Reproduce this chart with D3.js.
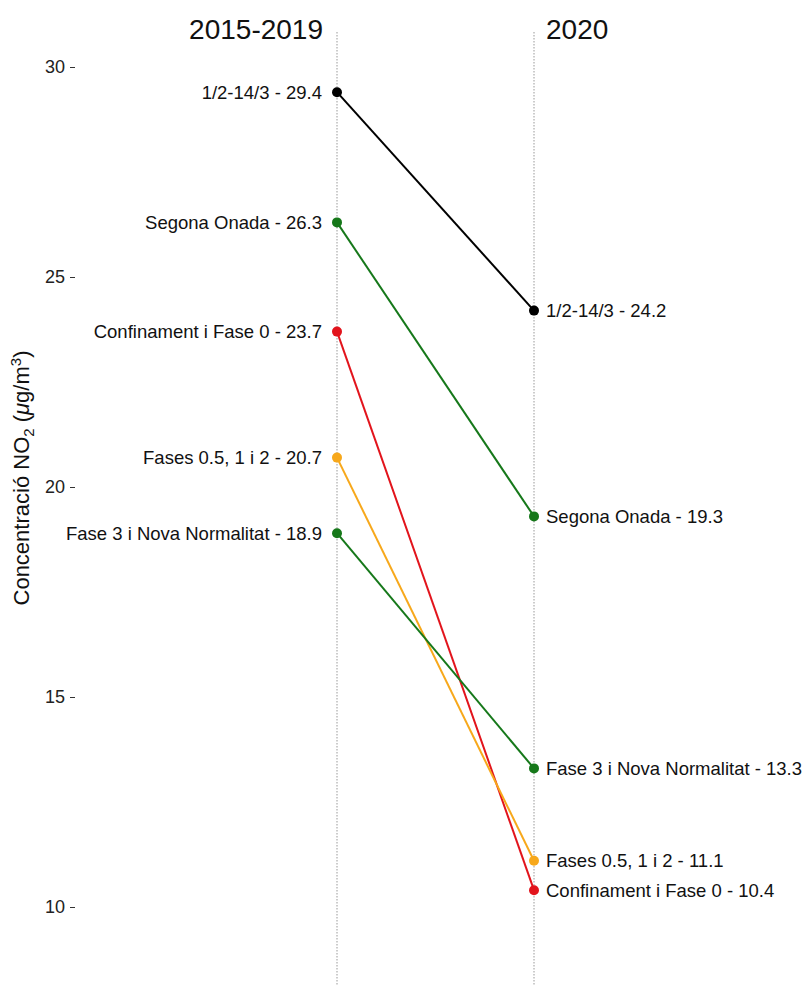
<!DOCTYPE html>
<html><head><meta charset="utf-8">
<script src="https://cdn.jsdelivr.net/npm/d3@7"></script>
<style>body{margin:0;background:#fff}svg{display:block;font-family:"Liberation Sans",Arial,Helvetica,sans-serif}</style>
</head><body>
<svg id="c" width="805" height="985"></svg>
<script>
const periods = ["2015-2019", "2020"];
const categories = ["1/2-14/3", "Segona Onada", "Confinament i Fase 0", "Fases 0.5, 1 i 2", "Fase 3 i Nova Normalitat"];
const values2015_2019 = [29.4, 26.3, 23.7, 20.7, 18.9];
const values2020 = [24.2, 19.3, 10.4, 11.1, 13.3];
const colors = ["#000000", "#16781a", "#e2141c", "#f7a81b", "#16781a"];
const yTicks = [10, 15, 20, 25, 30];

const svg = d3.select("#c");
const x = d3.scalePoint().domain(periods).range([337, 534]);
const y = d3.scaleLinear().domain([10, 30]).range([907, 67]);
const yTop = y.invert(32), yBot = y.invert(985);

svg.selectAll("line.v").data(periods).join("line")
  .attr("x1", d => x(d)).attr("x2", d => x(d))
  .attr("y1", y(yTop)).attr("y2", y(yBot))
  .attr("stroke", "#999").attr("stroke-width", 1).attr("stroke-dasharray", "1.5,1.5");

const ax = svg.append("g").attr("transform", "translate(75,0)")
  .call(d3.axisLeft(y).tickValues(yTicks).tickSize(5).tickPadding(5).tickFormat(d3.format("d")));
ax.select(".domain").remove();
ax.selectAll("text").attr("font-size", 18).attr("fill", "#222").attr("font-family", "Liberation Sans, Arial, sans-serif");
ax.selectAll("line").attr("stroke", "#333");

svg.append("text").attr("transform", "translate(29,478) rotate(-90)")
  .attr("text-anchor", "middle").attr("font-size", 22).attr("fill", "#111")
  .html('Concentració NO<tspan font-size="15" dy="5">2</tspan><tspan dy="-5"> (</tspan><tspan font-style="italic">μ</tspan>g/m<tspan font-size="15" dy="-8">3</tspan><tspan dy="8">)</tspan>');

svg.append("text").attr("x", x(periods[0]) - 14).attr("y", 39).attr("text-anchor", "end")
  .attr("font-size", 28).attr("fill", "#111").text(periods[0]);
svg.append("text").attr("x", x(periods[1]) + 12).attr("y", 39).attr("text-anchor", "start")
  .attr("font-size", 28).attr("fill", "#111").text(periods[1]);

const data = categories.map((c, i) => ({c, a: values2015_2019[i], b: values2020[i], col: colors[i]}));

svg.selectAll("line.s").data(data).join("line")
  .attr("x1", x(periods[0])).attr("y1", d => y(d.a))
  .attr("x2", x(periods[1])).attr("y2", d => y(d.b))
  .attr("stroke", d => d.col).attr("stroke-width", 2);

svg.selectAll("circle.a").data(data).join("circle")
  .attr("cx", x(periods[0])).attr("cy", d => y(d.a)).attr("r", 5).attr("fill", d => d.col);
svg.selectAll("circle.b").data(data).join("circle")
  .attr("cx", x(periods[1])).attr("cy", d => y(d.b)).attr("r", 5).attr("fill", d => d.col);

svg.selectAll("text.la").data(data).join("text")
  .attr("x", x(periods[0]) - 15).attr("y", d => y(d.a)).attr("dy", "0.35em")
  .attr("text-anchor", "end").attr("font-size", 18.5).attr("fill", "#111")
  .text(d => `${d.c} - ${d.a.toFixed(1)}`);
svg.selectAll("text.lb").data(data).join("text")
  .attr("x", x(periods[1]) + 12).attr("y", d => y(d.b)).attr("dy", "0.35em")
  .attr("text-anchor", "start").attr("font-size", 18.5).attr("fill", "#111")
  .text(d => `${d.c} - ${d.b.toFixed(1)}`);
</script>
</body></html>
